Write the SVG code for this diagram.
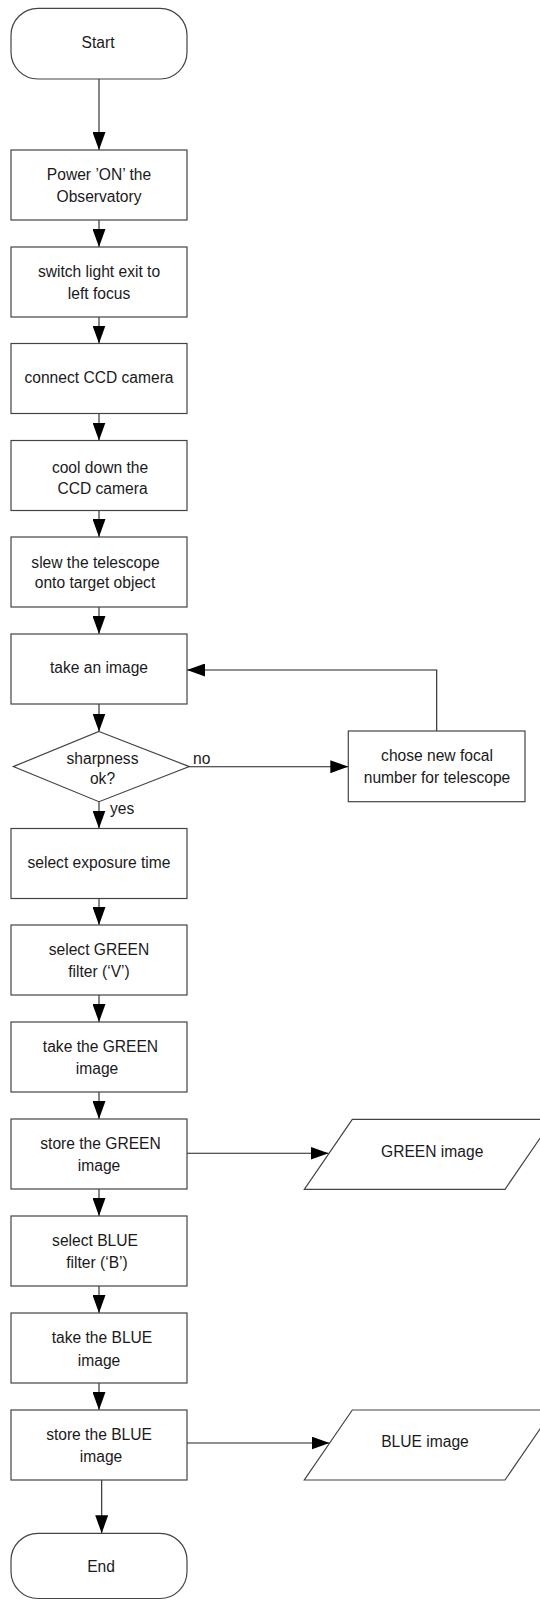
<svg xmlns="http://www.w3.org/2000/svg" width="540" height="1600" viewBox="0 0 540 1600">
<style>
.shape{fill:#fff;stroke:#444;stroke-width:1.2}
.conn{fill:none;stroke:#222;stroke-width:1.1}
text{font-family:"Liberation Sans",Arial,sans-serif;font-size:15.6px;fill:#1a1a1a;text-anchor:middle}
.lbl{text-anchor:start}
</style>
<defs>
<marker id="arr" markerUnits="userSpaceOnUse" markerWidth="18" markerHeight="13" refX="18" refY="6.5" orient="auto">
<path d="M0,0 L18,6.5 L0,13 z" fill="#000"/>
</marker>
</defs>
<rect width="540" height="1600" fill="#fff"/>
<g id="connectors">
<line class="conn" x1="99" y1="79" x2="99" y2="150" marker-end="url(#arr)"/>
<line class="conn" x1="99" y1="220" x2="99" y2="247" marker-end="url(#arr)"/>
<line class="conn" x1="99" y1="317" x2="99" y2="343.5" marker-end="url(#arr)"/>
<line class="conn" x1="99" y1="413.5" x2="99" y2="440.5" marker-end="url(#arr)"/>
<line class="conn" x1="99" y1="510.5" x2="99" y2="537" marker-end="url(#arr)"/>
<line class="conn" x1="99" y1="607" x2="99" y2="634" marker-end="url(#arr)"/>
<line class="conn" x1="99" y1="704" x2="99" y2="731.5" marker-end="url(#arr)"/>
<line class="conn" x1="99" y1="801.7" x2="99" y2="828.5" marker-end="url(#arr)"/>
<line class="conn" x1="189" y1="766.7" x2="348.3" y2="766.7" marker-end="url(#arr)"/>
<polyline class="conn" points="436.7,731 436.7,670 187,670" marker-end="url(#arr)"/>
<line class="conn" x1="99" y1="898.5" x2="99" y2="925" marker-end="url(#arr)"/>
<line class="conn" x1="99" y1="995" x2="99" y2="1022" marker-end="url(#arr)"/>
<line class="conn" x1="99" y1="1092" x2="99" y2="1119" marker-end="url(#arr)"/>
<line class="conn" x1="187" y1="1153.3" x2="328.5" y2="1153.3" marker-end="url(#arr)"/>
<line class="conn" x1="99" y1="1189" x2="99" y2="1216" marker-end="url(#arr)"/>
<line class="conn" x1="99" y1="1286" x2="99" y2="1313" marker-end="url(#arr)"/>
<line class="conn" x1="99" y1="1383" x2="99" y2="1410" marker-end="url(#arr)"/>
<line class="conn" x1="187" y1="1443" x2="329.5" y2="1443" marker-end="url(#arr)"/>
<line class="conn" x1="101.7" y1="1480" x2="101.7" y2="1533.3" marker-end="url(#arr)"/>
<text class="lbl" x="193" y="764.3">no</text>
<text class="lbl" x="110" y="814">yes</text>
</g>
<g id="start">
<rect class="shape" x="11" y="8.3" width="176" height="70.7" rx="27" ry="27"/>
<text x="98" y="47.7">Start</text>
</g>
<g id="power-on">
<rect class="shape" x="11" y="150" width="176" height="70"/>
<text x="99" y="180.1">Power ’ON’ the</text>
<text x="99" y="201.8">Observatory</text>
</g>
<g id="switch-light">
<rect class="shape" x="11" y="247" width="176" height="70"/>
<text x="99" y="277.3">switch light exit to</text>
<text x="99" y="298.6">left focus</text>
</g>
<g id="connect-ccd">
<rect class="shape" x="11" y="343.5" width="176" height="70"/>
<text x="99" y="383">connect CCD camera</text>
</g>
<g id="cool-down">
<rect class="shape" x="11" y="440.5" width="176" height="70"/>
<text x="100" y="472.8">cool down the</text>
<text x="102.5" y="493.6">CCD camera</text>
</g>
<g id="slew">
<rect class="shape" x="11" y="537" width="176" height="70"/>
<text x="95.5" y="567.5">slew the telescope</text>
<text x="95" y="587.8">onto target object</text>
</g>
<g id="take-image">
<rect class="shape" x="11" y="634" width="176" height="70"/>
<text x="99" y="673.4">take an image</text>
</g>
<g id="sharpness">
<polygon class="shape" points="99,731.5 189.3,766.6 99,801.7 13.3,766.6"/>
<text x="102.5" y="764">sharpness</text>
<text x="102.5" y="784">ok?</text>
</g>
<g id="chose-focal">
<rect class="shape" x="348.3" y="731" width="176.7" height="70.7"/>
<text x="437" y="761">chose new focal</text>
<text x="437" y="783">number for telescope</text>
</g>
<g id="exposure">
<rect class="shape" x="11" y="828.5" width="176" height="70"/>
<text x="99" y="868">select exposure time</text>
</g>
<g id="select-green">
<rect class="shape" x="11" y="925" width="176" height="70"/>
<text x="99" y="955.3">select GREEN</text>
<text x="99" y="977">filter (‘V’)</text>
</g>
<g id="take-green">
<rect class="shape" x="11" y="1022" width="176" height="70"/>
<text x="100.5" y="1052.3">take the GREEN</text>
<text x="97" y="1074">image</text>
</g>
<g id="store-green">
<rect class="shape" x="11" y="1119" width="176" height="70"/>
<text x="100.5" y="1149.3">store the GREEN</text>
<text x="99" y="1170.8">image</text>
</g>
<g id="green-image">
<polygon class="shape" points="352.3,1119.3 553,1119.3 505,1189.3 304.3,1189.3"/>
<text x="432.2" y="1156.7">GREEN image</text>
</g>
<g id="select-blue">
<rect class="shape" x="11" y="1216" width="176" height="70"/>
<text x="95" y="1246.3">select BLUE</text>
<text x="97" y="1267.5">filter (‘B’)</text>
</g>
<g id="take-blue">
<rect class="shape" x="11" y="1313" width="176" height="70"/>
<text x="102" y="1343.3">take the BLUE</text>
<text x="99" y="1366">image</text>
</g>
<g id="store-blue">
<rect class="shape" x="11" y="1410" width="176" height="70"/>
<text x="99" y="1440.3">store the BLUE</text>
<text x="101" y="1461.5">image</text>
</g>
<g id="blue-image">
<polygon class="shape" points="352.3,1410 553,1410 505,1480 304.3,1480"/>
<text x="425" y="1447.4">BLUE image</text>
</g>
<g id="end">
<rect class="shape" x="11" y="1533.3" width="176" height="65.2" rx="27" ry="27"/>
<text x="101" y="1571.7">End</text>
</g>
</svg>
